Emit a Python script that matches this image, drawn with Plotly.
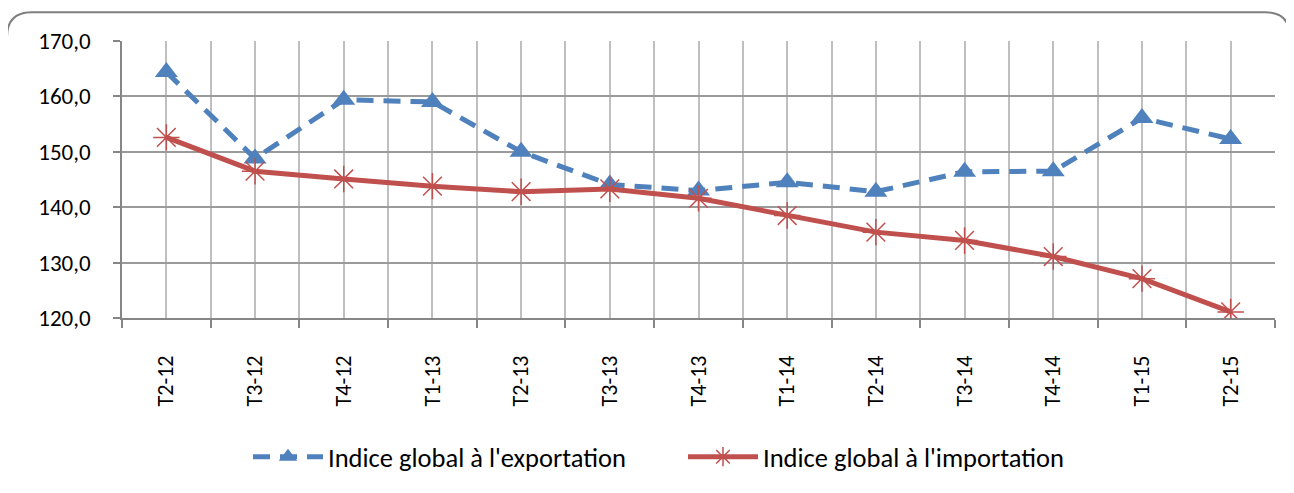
import plotly.graph_objects as go

categories = ["T2-12", "T3-12", "T4-12", "T1-13", "T2-13", "T3-13", "T4-13",
              "T1-14", "T2-14", "T3-14", "T4-14", "T1-15", "T2-15"]
export_idx = [164.4, 148.8, 159.4, 159.0, 150.0, 144.1, 143.0, 144.5, 142.8, 146.4, 146.5, 156.1, 152.3]
import_idx = [152.6, 146.5, 145.1, 143.8, 142.8, 143.3, 141.6, 138.5, 135.5, 134.0, 131.1, 127.1, 121.1]
y_ticks = [120, 130, 140, 150, 160, 170]

# page body has an 8px margin: work in page pixels, subtract offset
OX, OY = 8, 8
W, H = 1294 - OX, 493 - OY
L, R, T, B = 122 - OX, 1275 - OX, 41 - OY, 320 - OY
pw, ph = R - L, B - T

def px(x):
    return (x - OX - L) / pw

def py(y):
    return (B - (y - OY)) / ph

xs = list(range(len(categories)))
FONT = "Carlito, Calibri, Lato, sans-serif"

fig = go.Figure()
fig.add_trace(go.Scatter(
    x=xs, y=export_idx, mode="lines+markers",
    name="Indice global à l'exportation",
    line=dict(color="#4F81BD", width=5, dash="17px,10px"),
    marker=dict(symbol="triangle-up", size=20, color="#4F81BD"),
))
fig.add_trace(go.Scatter(
    x=xs, y=import_idx, mode="lines+markers",
    name="Indice global à l'importation",
    line=dict(color="#C0504D", width=5),
    marker=dict(symbol="asterisk-open", size=22, color="#C0504D",
                line=dict(color="#C0504D", width=1.5)),
))

# rounded border
x0, x1 = px(7), px(1290)
y0, y1 = py(12), py(530)
rx = 25 / pw
ry = 25 / ph
path = (f"M {x0+rx},{y0} L {x1-rx},{y0} Q {x1},{y0} {x1},{y0-ry} "
        f"L {x1},{y1} L {x0},{y1} L {x0},{y0-ry} Q {x0},{y0} {x0+rx},{y0} Z")
fig.add_shape(type="path", path=path, xref="paper", yref="paper",
              line=dict(color="#7f7f7f", width=2), layer="below")

fig.update_layout(
    width=W, height=H,
    margin=dict(l=L, r=W - R, t=T, b=H - B),
    paper_bgcolor="white", plot_bgcolor="white",
    separators=", ",
    font=dict(family=FONT, size=23, color="black"),
    showlegend=True,
    legend=dict(orientation="h", x=px(248), xanchor="left", y=py(460), yanchor="middle",
                font=dict(size=26.5, family=FONT), itemwidth=70, tracegroupgap=0,
                entrywidth=350, entrywidthmode="pixels", bgcolor="rgba(0,0,0,0)"),
    xaxis=dict(
        range=[-0.5, len(categories) - 0.5],
        tickmode="array", tickvals=xs, ticktext=categories,
        tickangle=-90, ticks="", ticklabelstandoff=27,
        showgrid=True, gridcolor="#bfbfbf", gridwidth=1.5,
        showline=True, linecolor="#868686", linewidth=1.5,
        zeroline=False,
        minor=dict(tick0=-0.5, dtick=1, showgrid=True, gridcolor="#bfbfbf",
                   gridwidth=1.5, ticks="outside", ticklen=8,
                   tickcolor="#868686", tickwidth=1.5),
        tickfont=dict(size=22, family=FONT),
    ),
    yaxis=dict(
        range=[120, 170], tickmode="array", tickvals=y_ticks,
        tickformat=".1f", ticks="outside", ticklen=7,
        tickcolor="#868686", tickwidth=1.5, ticklabelstandoff=18,
        showgrid=True, gridcolor="#9a9a9a", gridwidth=1.5,
        showline=True, linecolor="#868686", linewidth=1.5,
        zeroline=False, tickfont=dict(size=23, family=FONT),
    ),
)

fig.write_html("out.html")
